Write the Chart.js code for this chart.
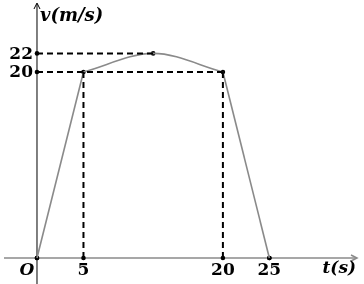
<!DOCTYPE html>
<html><head><meta charset="utf-8">
<script src="https://cdn.jsdelivr.net/npm/chart.js@4/dist/chart.umd.min.js"></script>
<style>html,body{margin:0;padding:0;background:#fff}#wrap{width:364px;height:284px}</style>
</head><body><div id="wrap"><canvas id="c" width="364" height="284"></canvas></div>
<script>
// Data
const accelT = [0, 5];
const accelV = [0, 20];
const arcT = [5, 12.5, 20];
const arcV = [20, 22, 20];
const decelT = [20, 25];
const decelV = [20, 0];
const xTickValues = [5, 20, 25];
const xTickLabels = ['5', '20', '25'];
const yTickValues = [22, 20];
const yTickLabels = ['22', '20'];
const xAxisTitle = 't(s)';
const yAxisTitle = 'v(m/s)';
const originLabel = 'O';

const pts = (xs, ys) => xs.map((x, i) => ({x, y: ys[i]}));
const grey = '#8a8a8a';

const datasets = [];
// dashed guides
datasets.push({data: [{x: 0, y: arcV[1]}, {x: arcT[1], y: arcV[1]}], borderColor: '#000', borderWidth: 2, borderDash: [6, 4], pointRadius: 0, showLine: true});
datasets.push({data: [{x: 0, y: accelV[1]}, {x: decelT[0], y: decelV[0]}], borderColor: '#000', borderWidth: 2, borderDash: [6, 4], pointRadius: 0, showLine: true});
datasets.push({data: [{x: accelT[1], y: accelV[1]}, {x: accelT[1], y: 0}], borderColor: '#000', borderWidth: 2, borderDash: [6, 4], pointRadius: 0, showLine: true});
datasets.push({data: [{x: decelT[0], y: decelV[0]}, {x: decelT[0], y: 0}], borderColor: '#000', borderWidth: 2, borderDash: [6, 4], pointRadius: 0, showLine: true});
// curve
datasets.push({data: pts(accelT, accelV), borderColor: grey, borderWidth: 1.6, pointRadius: 0, showLine: true});
datasets.push({data: pts(arcT, arcV), borderColor: grey, borderWidth: 1.6, pointRadius: 0, showLine: true, cubicInterpolationMode: 'monotone'});
datasets.push({data: pts(decelT, decelV), borderColor: grey, borderWidth: 1.6, pointRadius: 0, showLine: true});
// dots
const dots = [{x: 0, y: 0}, {x: 0, y: arcV[1]}, {x: 0, y: accelV[1]}, {x: arcT[1], y: arcV[1]}]
  .concat(pts(accelT, accelV), pts(decelT, decelV), xTickValues.map(x => ({x, y: 0})));
datasets.push({data: dots, showLine: false, pointRadius: 2.3, pointBackgroundColor: '#000', pointBorderWidth: 0});

const axesPlugin = {
  id: 'axes',
  beforeDatasetsDraw(chart) {
    const {ctx, scales: {x, y}} = chart;
    const x0 = x.getPixelForValue(0), y0 = y.getPixelForValue(0);
    ctx.save();
    // x axis
    ctx.strokeStyle = grey; ctx.lineWidth = 1.5;
    ctx.beginPath(); ctx.moveTo(4, y0); ctx.lineTo(356, y0); ctx.stroke();
    ctx.beginPath(); ctx.moveTo(351, y0 - 3); ctx.lineTo(357, y0); ctx.lineTo(351, y0 + 3); ctx.stroke();
    // y axis
    ctx.strokeStyle = '#000'; ctx.lineWidth = 1;
    ctx.beginPath(); ctx.moveTo(x0, 284); ctx.lineTo(x0, 4); ctx.stroke();
    ctx.beginPath(); ctx.moveTo(x0 - 3, 9); ctx.lineTo(x0, 3); ctx.lineTo(x0 + 3, 9); ctx.stroke();
    ctx.restore();
  },
  afterDatasetsDraw(chart) {
    const {ctx, scales: {x, y}} = chart;
    const x0 = x.getPixelForValue(0), y0 = y.getPixelForValue(0);
    ctx.save();
    ctx.fillStyle = '#000';
    ctx.textBaseline = 'middle';
    ctx.font = 'bold 17px "DejaVu Serif"';
    ctx.textAlign = 'right';
    yTickValues.forEach((v, i) => ctx.fillText(yTickLabels[i], x0 - 4, y.getPixelForValue(v) + 1));
    ctx.textAlign = 'center';
    xTickValues.forEach((v, i) => ctx.fillText(xTickLabels[i], x.getPixelForValue(v), y0 + 13));
    ctx.font = 'italic bold 17px "DejaVu Serif"';
    ctx.fillText(originLabel, x0 - 10, y0 + 13);
    ctx.textAlign = 'right';
    ctx.fillText(xAxisTitle, 356, y0 + 11);
    ctx.textAlign = 'left';
    ctx.font = 'italic bold 18px "DejaVu Serif"';
    ctx.fillText(yAxisTitle, x0 + 3, 16);
    ctx.restore();
  }
};

new Chart(document.getElementById('c'), {
  type: 'scatter',
  data: {datasets},
  options: {
    responsive: false,
    animation: false,
    layout: {padding: 0, autoPadding: false},
    plugins: {legend: {display: false}, tooltip: {enabled: false}},
    scales: {
      x: {type: 'linear', display: false, min: -3.98, max: 35.18},
      y: {type: 'linear', display: false, min: -2.8, max: 27.74}
    }
  },
  plugins: [axesPlugin]
});
</script></body></html>
